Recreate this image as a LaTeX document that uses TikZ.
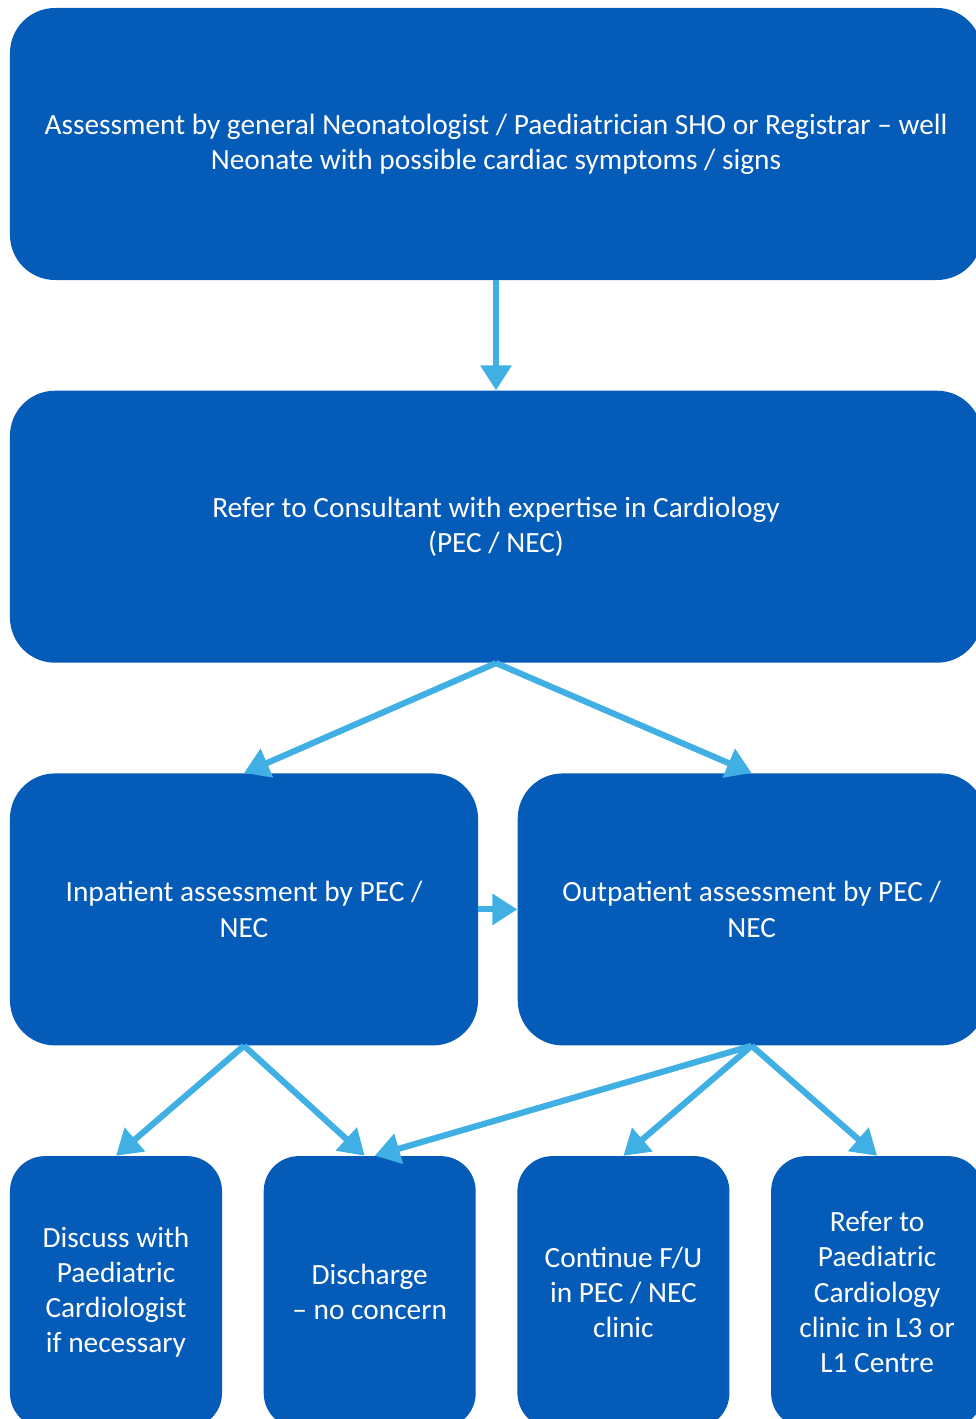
\documentclass[tikz,border=0pt]{standalone}
\usepackage{fontspec}
\setmainfont{Carlito}
\usetikzlibrary{positioning,arrows.meta}
\definecolor{boxblue}{RGB}{5,91,184}
\definecolor{arrowblue}{RGB}{64,176,228}

\begin{document}
\begin{tikzpicture}[node distance=2.2cm,
    main box/.style={rectangle,rounded corners=0.9cm,fill=boxblue,text=white,align=center,
                     minimum width=19.44cm,minimum height=5.44cm,font=\fontsize{16.7}{20}\selectfont},
    half box/.style={main box,minimum width=9.36cm},
    small box/.style={main box,rounded corners=0.7cm,minimum width=4.24cm},
    flow arrow/.style={color=arrowblue,line width=3.5pt,-{Triangle[length=0.5cm,width=0.6cm]}}]

  \useasboundingbox (0,0) rectangle (19.5,-28.38);

  \node[main box] (1) at (9.92,-2.88) {Assessment by general Neonatologist / Paediatrician SHO or Registrar -- well\\Neonate with possible cardiac symptoms / signs};
  \node[main box] (2) [below=of 1] {Refer to Consultant with expertise in Cardiology\\(PEC / NEC)};
  \node[half box] (3) [below=of 2.south west, anchor=north west] {Inpatient assessment by PEC /\\NEC};
  \node[half box] (4) [right=0.78cm of 3] {Outpatient assessment by PEC /\\NEC};
  \node[small box] (5) [below=of 3.south west, anchor=north west] {Discuss with\\Paediatric\\Cardiologist\\if necessary};
  \node[small box] (6) [right=0.82cm of 5] {Discharge\\-- no concern};
  \node[small box] (7) [right=0.82cm of 6] {Continue F/U\\in PEC / NEC\\clinic};
  \node[small box] (8) [right=0.82cm of 7] {Refer to\\Paediatric\\Cardiology\\clinic in L3 or\\L1 Centre};

\path[flow arrow]
    (1) edge (2)
    (2.south) edge (3.north)
    (2.south) edge (4.north)
    (3) edge (4)
    (3.south) edge (5.north)
    (3.south) edge ([xshift=-0.1cm]6.north)
    (4.south) edge ([xshift=0.1cm]6.north)
    (4.south) edge (7.north)
    (4.south) edge (8.north);

\end{tikzpicture}
\end{document}
